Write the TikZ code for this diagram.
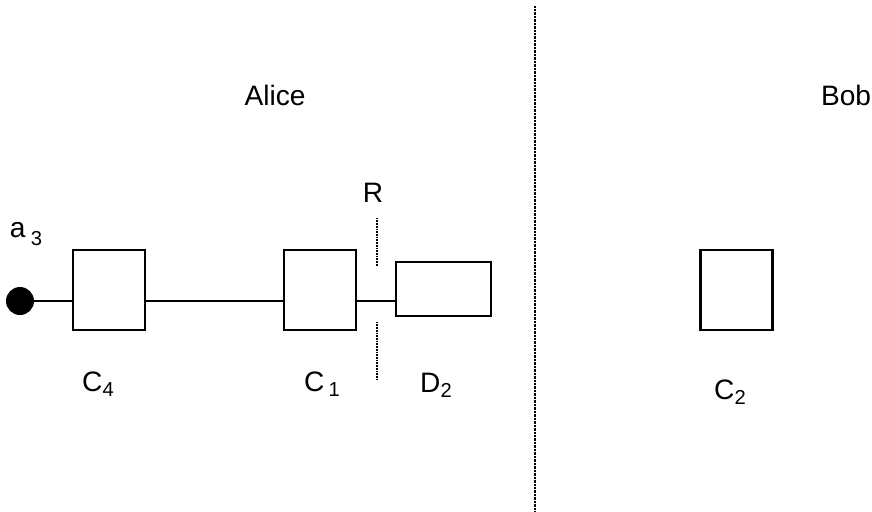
\documentclass[tikz,border=0pt]{standalone}
\usepackage{fontspec}
\setmainfont{Liberation Sans}
\usepackage{tikz}
\usetikzlibrary{positioning,calc}

\newcommand{\lowidx}[2][3pt]{\raisebox{-#1}{\fontsize{11.5}{12}\selectfont #2}}

\begin{document}
\begin{tikzpicture}[x=0.02cm,y=-0.02cm,
    lbl/.style={font=\fontsize{16}{18}\selectfont,inner sep=0pt},
    block/.style={draw,line width=1.2pt,minimum width=1.44cm,minimum height=1.6cm,inner sep=0pt},
    wire/.style={line width=0.6pt},
    cutline/.style={line width=0.9pt,dash pattern=on 0.5pt off 0.4pt},
    divider/.style={line width=1.2pt,dash pattern=on 0.5pt off 0.3pt}]
        \useasboundingbox (0,0) rectangle (872,511);
        % parties
        \node[lbl] (alice) at (275,95) {Alice};
        \node[lbl] (bob) at (846,95) {Bob};
        % Alice's chain
        \node[circle,fill,minimum size=0.56cm,inner sep=0pt] (dot) at (20,301) {};
        \node[lbl] (a3) at (26,234) {a\hspace{3pt}\lowidx[4.5pt]{3}};
        \node[block] (c4) at (109,290) {};
        \node[block] (c1) at (320,290) {};
        \node[block,minimum width=1.9cm,minimum height=1.08cm] (d2) at (443.5,289) {};
        \node[lbl] (c4lbl) at (98,384) {C\lowidx{4}};
        \node[lbl] (c1lbl) at (322,384) {C\hspace{2.5pt}\lowidx{1}};
        \node[lbl] (d2lbl) at (436,385) {D\lowidx{2}};
        \draw[wire] (dot) -- (dot -| c4.west);
        \draw[wire] (dot -| c4.east) -- (dot -| c1.west);
        \draw[wire] (dot -| c1.east) -- (dot -| d2.west);
        % cut R
        \node[lbl] (r) at (373,193) {R};
        \coordinate (rtop1) at (377,218);
        \coordinate (rtop2) at (377,267);
        \coordinate (rbot1) at (377,322);
        \coordinate (rbot2) at (377,380);
        \draw[cutline] (rtop1) -- (rtop2);
        \draw[cutline] (rbot1) -- (rbot2);
        % divider
        \coordinate (divtop) at (535,6);
        \coordinate (divbot) at (535,511);
        \draw[divider] (divtop) -- (divbot);
        % Bob's side
        \node[block] (c2) at (736.5,290) {};
        \node[lbl] (c2lbl) at (730,392) {C\lowidx{2}};
      \end{tikzpicture}
\end{document}
